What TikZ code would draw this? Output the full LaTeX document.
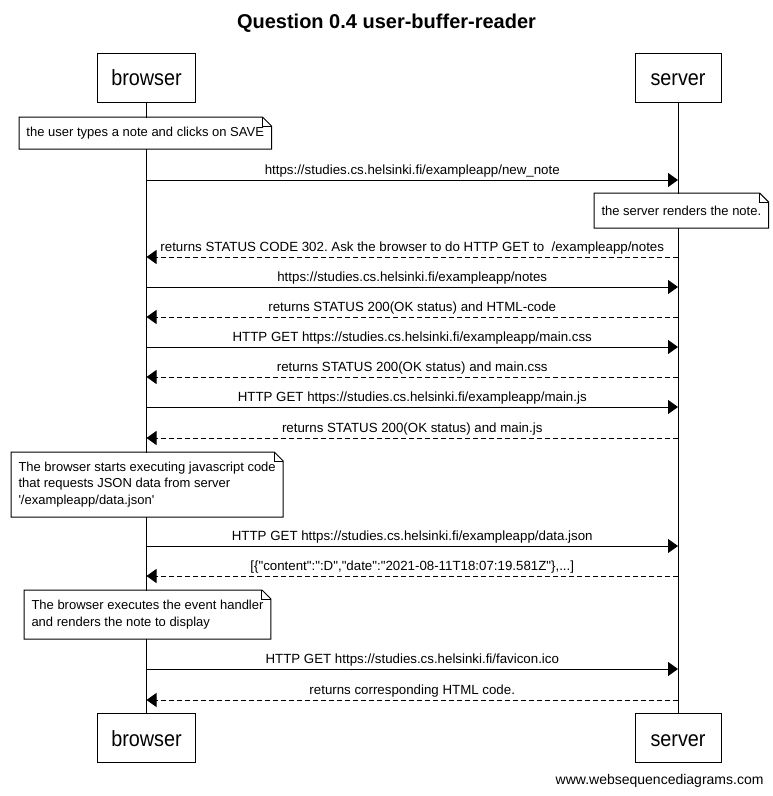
\documentclass[tikz,border=0pt]{standalone}
\usepackage{fontspec}
\setmainfont{Liberation Sans}[Ligatures=TeXOff]
\newfontfamily\actorfont[FakeStretch=0.9]{Liberation Sans}
\usetikzlibrary{arrows.meta}
\frenchspacing
\begin{document}
\begin{tikzpicture}[
        x=1pt, y=-1pt,
        line width=1pt,
        actor/.style={draw, fill=white, minimum height=49pt, inner sep=0pt, text height=16pt, text depth=0pt, font=\actorfont\fontsize{22}{26}\selectfont},
        note/.style={fill=white, inner xsep=7pt, inner ysep=0pt, align=left, anchor=north west, font=\fontsize{13}{16.5}\selectfont},
        msg/.style={-{Triangle[length=10pt,width=14pt]}},
        reply/.style={msg, dash pattern=on 5pt off 3pt},
        lbl/.style={midway, above=2pt, inner sep=0pt, font=\fontsize{13.3}{16}\selectfont}
    ]
    \useasboundingbox[fill=white] (0,0) rectangle (773,796);
    \node[font=\bfseries\fontsize{20}{24}\selectfont] (title) at (386.5,23) {Question 0.4 user-buffer-reader};

    % Actors, top and bottom
    \node[actor, minimum width=98pt] (browser) at (146.5,77.5) {browser};
    \node[actor, minimum width=86pt] (server) at (678,77.5) {server};
    \node[actor, minimum width=98pt] (browserb) at (146.5,738) {browser};
    \node[actor, minimum width=86pt] (serverb) at (678,738) {server};

    % Lifelines
    \draw (browser) -- (browserb);
    \draw (server) -- (serverb);

    % Points on the lifelines
    \foreach \i/\y in {1/180, 2/257, 3/287, 4/317, 5/347, 6/377, 7/407, 8/438, 9/546, 10/576, 11/669, 12/700} {
        \coordinate (b\i) at (browser.south |- 0,\y);
        \coordinate (s\i) at (server.south |- 0,\y);
    }

    % Notes
    \node[note, minimum height=31pt] (n1) at (19,117) {the user types a note and clicks on SAVE};
    \node[note, minimum height=34pt] (n2) at (594,193) {the server renders the note.};
    \node[note, minimum height=64pt] (n3) at (11,452) {The browser starts executing javascript code\\that requests JSON data from server\\'/exampleapp/data.json'};
    \node[note, minimum height=48pt] (n4) at (24,590) {The browser executes the event handler\\and renders the note to display};
    \foreach \n in {n1,n2,n3,n4} {
        \draw (\n.north west) -- ([xshift=-9pt]\n.north east) -- ([yshift=-9pt]\n.north east) -- (\n.south east) -- (\n.south west) -- cycle;
        \draw ([xshift=-9pt]\n.north east) |- ([yshift=-9pt]\n.north east);
    }

    % Messages
    \draw[msg] (b1) -- (s1) node[lbl] {https://studies.cs.helsinki.fi/exampleapp/new\_note};
    \draw[reply] (s2) -- (b2) node[lbl] {returns STATUS CODE 302. Ask the browser to do HTTP GET to~ /exampleapp/notes};
    \draw[msg] (b3) -- (s3) node[lbl] {https://studies.cs.helsinki.fi/exampleapp/notes};
    \draw[reply] (s4) -- (b4) node[lbl] {returns STATUS 200(OK status) and HTML-code};
    \draw[msg] (b5) -- (s5) node[lbl] {HTTP GET https://studies.cs.helsinki.fi/exampleapp/main.css};
    \draw[reply] (s6) -- (b6) node[lbl] {returns STATUS 200(OK status) and main.css};
    \draw[msg] (b7) -- (s7) node[lbl] {HTTP GET https://studies.cs.helsinki.fi/exampleapp/main.js};
    \draw[reply] (s8) -- (b8) node[lbl] {returns STATUS 200(OK status) and main.js};
    \draw[msg] (b9) -- (s9) node[lbl] {HTTP GET https://studies.cs.helsinki.fi/exampleapp/data.json};
    \draw[reply] (s10) -- (b10) node[lbl] {[\{"content":":D","date":"2021-08-11T18:07:19.581Z"\},...]};
    \draw[msg] (b11) -- (s11) node[lbl] {HTTP GET https://studies.cs.helsinki.fi/favicon.ico};
    \draw[reply] (s12) -- (b12) node[lbl] {returns corresponding HTML code.};

    \node[anchor=east, inner sep=0pt, font=\fontsize{14}{16}\selectfont] (site) at (764,781) {www.websequencediagrams.com};
\end{tikzpicture}
\end{document}
